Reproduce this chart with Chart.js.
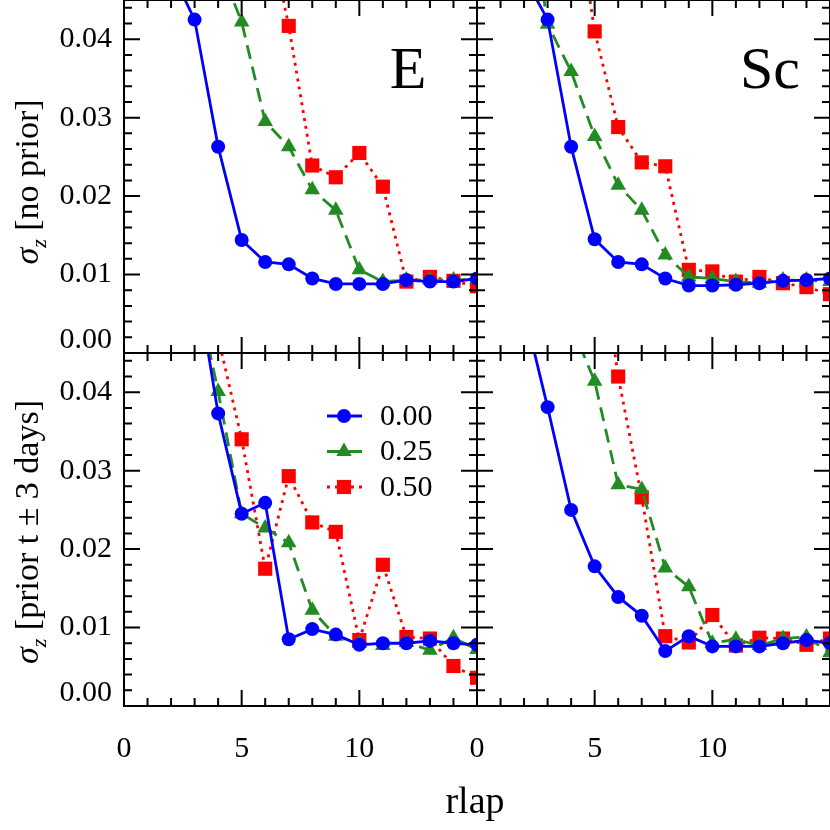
<!DOCTYPE html>
<html>
<head>
<meta charset="utf-8">
<script src="https://cdn.jsdelivr.net/npm/chart.js@4/dist/chart.umd.min.js"></script>
<style>
  body { margin: 0; background: #fff; }
  #wrap { position: relative; width: 830px; height: 830px; font-family: "Liberation Serif", serif; color: #000; }
  #wrap canvas { position: absolute; left: 0; top: 0; }
  .ytitle { position: absolute; font-size: 34px; white-space: nowrap; transform: translate(-50%, -50%) rotate(-90deg); }
  .ytitle sub { font-size: 22px; }
  #xtitle { position: absolute; left: 475px; top: 800px; transform: translate(-50%, -50%); font-size: 38px; }
</style>
</head>
<body>
<div id="wrap">
  <canvas id="tl" width="830" height="830"></canvas>
  <canvas id="tr" width="830" height="830"></canvas>
  <canvas id="bl" width="830" height="830"></canvas>
  <canvas id="br" width="830" height="830"></canvas>
  <div class="ytitle" style="left:30px; top:182px"><i>σ</i><sub><i>z</i></sub> [no prior]</div>
  <div class="ytitle" style="left:30px; top:532px"><i>σ</i><sub><i>z</i></sub> [prior t ± 3 days]</div>
  <div id="xtitle">rlap</div>
</div>
<script>
// rlap values shared by all panels
const rlap = [2, 3, 4, 5, 6, 7, 8, 9, 10, 11, 12, 13, 14, 15];
const seriesLabels = ["0.00", "0.25", "0.50"];

// E, no prior
const eNoPrior00 = [0.0487, 0.0425, 0.0263, 0.0144, 0.0116, 0.0113, 0.0095, 0.0088, 0.0088, 0.0088, 0.0093, 0.0091, 0.0091, 0.0095];
const eNoPrior25 = [null, null, 0.0498, 0.0422, 0.0295, 0.0263, 0.0208, 0.0182, 0.0106, 0.0091, 0.0093, 0.0093, 0.0093, 0.0094];
const eNoPrior50 = [null, null, null, null, 0.0560, 0.0417, 0.0239, 0.0224, 0.0255, 0.0212, 0.0091, 0.0097, 0.0092, 0.0085];
// Sc, no prior
const scNoPrior00 = [0.0480, 0.0425, 0.0263, 0.0145, 0.0116, 0.0113, 0.0095, 0.0086, 0.0086, 0.0087, 0.0089, 0.0092, 0.0093, 0.0095];
const scNoPrior25 = [0.0626, 0.0419, 0.0359, 0.0276, 0.0214, 0.0182, 0.0125, 0.0097, 0.0095, 0.0091, 0.0089, 0.0093, 0.0093, 0.0091];
const scNoPrior50 = [null, null, 0.0610, 0.0410, 0.0288, 0.0243, 0.0238, 0.0106, 0.0104, 0.0091, 0.0097, 0.0089, 0.0084, 0.0075];
// E, prior t +- 3 days
const ePrior00 = [null, 0.0557, 0.0373, 0.0245, 0.0259, 0.0085, 0.0098, 0.0091, 0.0078, 0.0080, 0.0080, 0.0083, 0.0080, 0.0078];
const ePrior25 = [null, 0.0541, 0.0401, 0.0245, 0.0227, 0.0208, 0.0122, 0.0089, 0.0080, 0.0077, 0.0081, 0.0071, 0.0087, 0.0072];
const ePrior50 = [null, null, 0.0470, 0.0340, 0.0175, 0.0293, 0.0234, 0.0222, 0.0084, 0.0180, 0.0088, 0.0086, 0.0051, 0.0036];
// Sc, prior t +- 3 days
const scPrior00 = [0.0505, 0.0381, 0.0250, 0.0178, 0.0139, 0.0115, 0.0070, 0.0089, 0.0076, 0.0076, 0.0076, 0.0080, 0.0084, 0.0080];
const scPrior25 = [null, null, 0.0486, 0.0414, 0.0282, 0.0276, 0.0176, 0.0152, 0.0080, 0.0085, 0.0077, 0.0086, 0.0088, 0.0068];
const scPrior50 = [null, null, null, 0.0630, 0.0420, 0.0266, 0.0089, 0.0081, 0.0116, 0.0077, 0.0087, 0.0086, 0.0078, 0.0086];

// tick values
const xLabelTicks = [0, 5, 10];
const xMajor = [5, 10];
const xMinor = [1, 2, 3, 4, 6, 7, 8, 9, 11, 12, 13, 14];
const yLabelTicks = [0, 0.01, 0.02, 0.03, 0.04];
const yMinor = [0.002, 0.004, 0.006, 0.008, 0.012, 0.014, 0.016, 0.018, 0.022, 0.024, 0.026, 0.028,
                0.032, 0.034, 0.036, 0.038, 0.042, 0.044];

const colors = ["#0000ff", "#228b22", "#ff0000"];
const dashes = [[], [14, 8], [3, 5]];
const markers = ["circle", "triangle", "rect"];
const radii = [7, 9, 10];

Chart.defaults.font.family = "'Liberation Serif', serif";
Chart.defaults.color = "#000";

// frame, inward ticks, panel label and legend
const framePlugin = {
  id: "frame",
  afterDraw(chart) {
    const { ctx, chartArea: a, scales } = chart;
    const o = chart.options.plugins.frame;
    const x = scales.x, y = scales.y;
    ctx.save();
    ctx.strokeStyle = "#000";
    ctx.lineWidth = 2;
    ctx.beginPath();
    const xt = (vals, len) => vals.forEach(v => {
      const px = x.getPixelForValue(v);
      ctx.moveTo(px, a.bottom); ctx.lineTo(px, a.bottom - len);
      ctx.moveTo(px, a.top); ctx.lineTo(px, a.top + len);
    });
    const yt = (vals, len) => vals.forEach(v => {
      const py = y.getPixelForValue(v);
      ctx.moveTo(a.left, py); ctx.lineTo(a.left + len, py);
      ctx.moveTo(a.right, py); ctx.lineTo(a.right - len, py);
    });
    xt(xMajor, 16); xt(xMinor, 8);
    yt(yLabelTicks, 16); yt(yMinor, 8);
    ctx.stroke();
    ctx.strokeRect(a.left, a.top, a.right - a.left, a.bottom - a.top);

    if (o.label) {
      ctx.fillStyle = "#000";
      ctx.font = "60px 'Liberation Serif'";
      ctx.textAlign = "center";
      ctx.textBaseline = "middle";
      ctx.fillText(o.label, a.right - o.labelDx, a.top + 72);
    }

    if (o.legend) {
      chart.data.datasets.forEach((ds, i) => {
        const ly = a.top + 63 + i * 35.5;
        ctx.save();
        ctx.strokeStyle = ds.borderColor;
        ctx.lineWidth = ds.borderWidth;
        ctx.setLineDash(ds.borderDash);
        ctx.beginPath();
        ctx.moveTo(a.left + 203, ly);
        ctx.lineTo(a.left + 238, ly);
        ctx.stroke();
        ctx.setLineDash([]);
        ctx.fillStyle = ds.backgroundColor;
        Chart.helpers.drawPoint(ctx, { pointStyle: ds.pointStyle, radius: ds.pointRadius, borderWidth: 0, rotation: 0 }, a.left + 220, ly);
        ctx.restore();
        ctx.fillStyle = "#000";
        ctx.font = "30px 'Liberation Serif'";
        ctx.textAlign = "left";
        ctx.textBaseline = "middle";
        ctx.fillText(ds.label, a.left + 256, ly + 1);
      });
    }
    ctx.restore();
  }
};

function makePanel(id, series, col, row, frameOpts) {
  const left = col === 0, bottom = row === 1;
  return new Chart(document.getElementById(id), {
    type: "line",
    data: {
      datasets: series.map((vals, i) => ({
        label: seriesLabels[i],
        data: rlap.map((r, j) => ({ x: r, y: vals[j] })),
        borderColor: colors[i],
        backgroundColor: colors[i],
        borderWidth: 2.8,
        borderDash: dashes[i],
        pointStyle: markers[i],
        pointRadius: radii[i],
        pointBorderWidth: 0,
        tension: 0,
        clip: 0
      }))
    },
    options: {
      responsive: false,
      animation: false,
      events: [],
      layout: {
        autoPadding: false,
        padding: { left: left ? 0 : 477, right: left ? 353 : 0, top: bottom ? 353 : 0, bottom: bottom ? 0 : 477 }
      },
      plugins: {
        legend: { display: false },
        tooltip: { enabled: false },
        frame: frameOpts
      },
      scales: {
        x: {
          type: "linear", min: 0, max: 15, display: bottom,
          grid: { display: false, drawTicks: false },
          border: { display: false },
          afterBuildTicks: s => { s.ticks = xLabelTicks.map(v => ({ value: v })); },
          afterFit: s => { if (bottom) s.height = 124; },
          ticks: { padding: 25, maxRotation: 0, font: { size: 30 }, callback: v => String(v) }
        },
        y: {
          type: "linear", min: 0, max: 0.045, display: left,
          grid: { display: false, drawTicks: false },
          border: { display: false },
          afterBuildTicks: s => { s.ticks = yLabelTicks.map(v => ({ value: v })); },
          afterFit: s => { if (left) { s.width = 124; s.paddingTop = 0; s.paddingBottom = 0; } },
          // the 0.00 label sits a little above its tick, as in the original
          ticks: {
            padding: 12,
            font: c => ({ size: 30, lineHeight: c.tick && c.tick.value === 0 ? 0.85 : 1.2 }),
            callback: v => v === 0 ? [v.toFixed(2), ""] : v.toFixed(2)
          }
        }
      }
    },
    plugins: [framePlugin]
  });
}

makePanel("tl", [eNoPrior00, eNoPrior25, eNoPrior50], 0, 0, { label: "E", labelDx: 69 });
makePanel("tr", [scNoPrior00, scNoPrior25, scNoPrior50], 1, 0, { label: "Sc", labelDx: 60 });
makePanel("bl", [ePrior00, ePrior25, ePrior50], 0, 1, { legend: true });
makePanel("br", [scPrior00, scPrior25, scPrior50], 1, 1, {});
</script>
</body>
</html>
